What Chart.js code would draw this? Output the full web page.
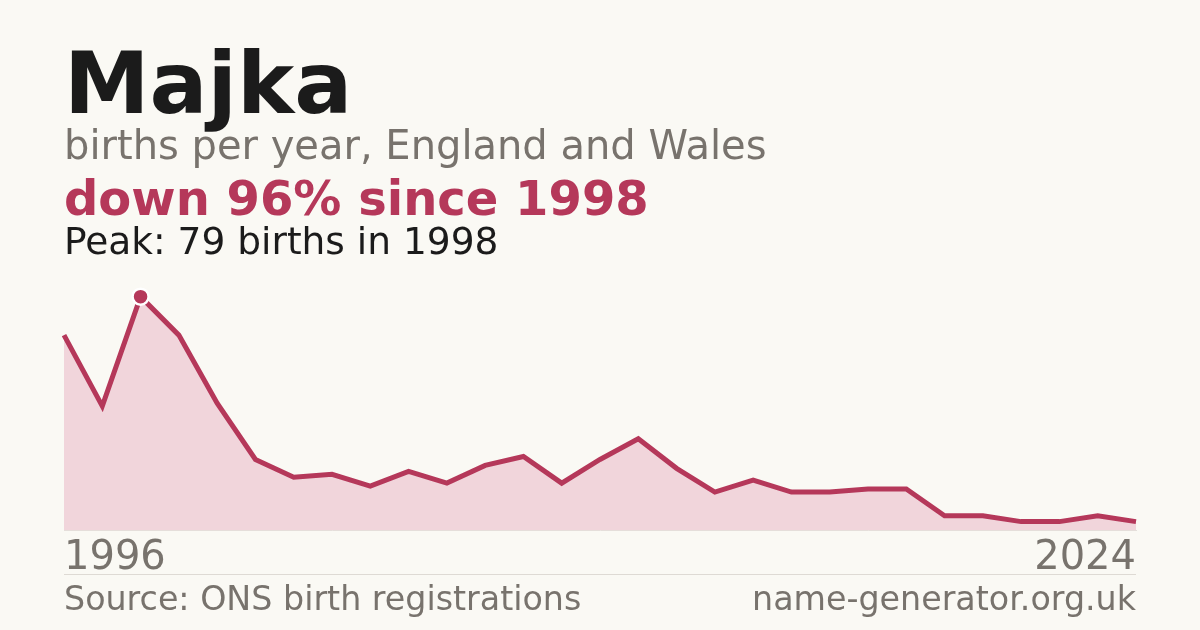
<!DOCTYPE html>
<html>
<head>
<meta charset="utf-8">
<script src="https://cdn.jsdelivr.net/npm/chart.js@4"></script>
<style>
  html, body { margin: 0; padding: 0; background: #faf9f4; }
  #wrap { width: 1200px; height: 630px; position: relative; }
</style>
</head>
<body>
<div id="wrap"><canvas id="chart" width="1200" height="630"></canvas></div>
<script>
const years = [1996, 1997, 1998, 1999, 2000, 2001, 2002, 2003, 2004, 2005,
  2006, 2007, 2008, 2009, 2010, 2011, 2012, 2013, 2014, 2015,
  2016, 2017, 2018, 2019, 2020, 2021, 2022, 2023, 2024];
const births = [66, 42, 79, 66, 43, 24, 18, 19, 15, 20,
  16, 22, 25, 16, 24, 31, 21, 13, 17, 13,
  13, 14, 14, 5, 5, 3, 3, 5, 3];
const peakIndex = 2;
const tickYears = [1996, 2024];

const red = "#b5385a";
const grey = "#78736d";
const ink = "#1b1b1b";

const textPlugin = {
  id: "texts",
  beforeDraw(chart) {
    const ctx = chart.ctx;
    ctx.save();
    ctx.fillStyle = "#faf9f4";
    ctx.fillRect(0, 0, chart.width, chart.height);
    ctx.textAlign = "left";
    ctx.textBaseline = "alphabetic";

    ctx.fillStyle = ink;
    ctx.font = "bold 86px 'DejaVu Sans'";
    ctx.fillText("Majka", 64, 113);

    ctx.fillStyle = grey;
    ctx.font = "40px 'DejaVu Sans'";
    ctx.fillText("births per year, England and Wales", 64, 159);

    ctx.fillStyle = red;
    ctx.font = "bold 48px 'DejaVu Sans'";
    ctx.fillText("down 96% since 1998", 64, 215);

    ctx.fillStyle = ink;
    ctx.font = "37.5px 'DejaVu Sans'";
    ctx.fillText("Peak: 79 births in 1998", 64, 254);

    // separator above footer
    ctx.strokeStyle = "#dedad4";
    ctx.lineWidth = 1;
    ctx.beginPath();
    ctx.moveTo(64, 574.5);
    ctx.lineTo(1136, 574.5);
    ctx.stroke();

    ctx.fillStyle = grey;
    ctx.font = "33.3px 'DejaVu Sans'";
    ctx.fillText("Source: ONS birth registrations", 64, 610);
    ctx.textAlign = "right";
    ctx.fillText("name-generator.org.uk", 1136, 610);
    ctx.restore();
  }
};

new Chart(document.getElementById("chart"), {
  type: "line",
  data: {
    labels: years,
    datasets: [{
      data: births,
      borderColor: red,
      borderWidth: 5,
      backgroundColor: "#f1d5db",
      fill: "origin",
      tension: 0,
      pointRadius: births.map((v, i) => (i === peakIndex ? 8 : 0)),
      pointBackgroundColor: red,
      pointBorderColor: "#ffffff",
      pointBorderWidth: 2.5,
      pointHoverRadius: 0
    }]
  },
  options: {
    responsive: false,
    animation: false,
    devicePixelRatio: 1,
    layout: { padding: { left: 64, right: 64, top: 270, bottom: 43.5 } },
    plugins: { legend: { display: false }, tooltip: { enabled: false } },
    scales: {
      y: { display: false, min: 0, max: 88 },
      x: {
        grid: { display: false, drawTicks: false },
        border: { display: true, color: "#e3dfda", width: 1 },
        ticks: {
          autoSkip: false,
          maxRotation: 0,
          align: "inner",
          padding: 4,
          color: grey,
          font: { family: "'DejaVu Sans'", size: 40 },
          callback: function (value, index) {
            const y = years[index];
            return tickYears.includes(y) ? String(y) : "";
          }
        }
      }
    }
  },
  plugins: [textPlugin]
});
</script>
</body>
</html>
